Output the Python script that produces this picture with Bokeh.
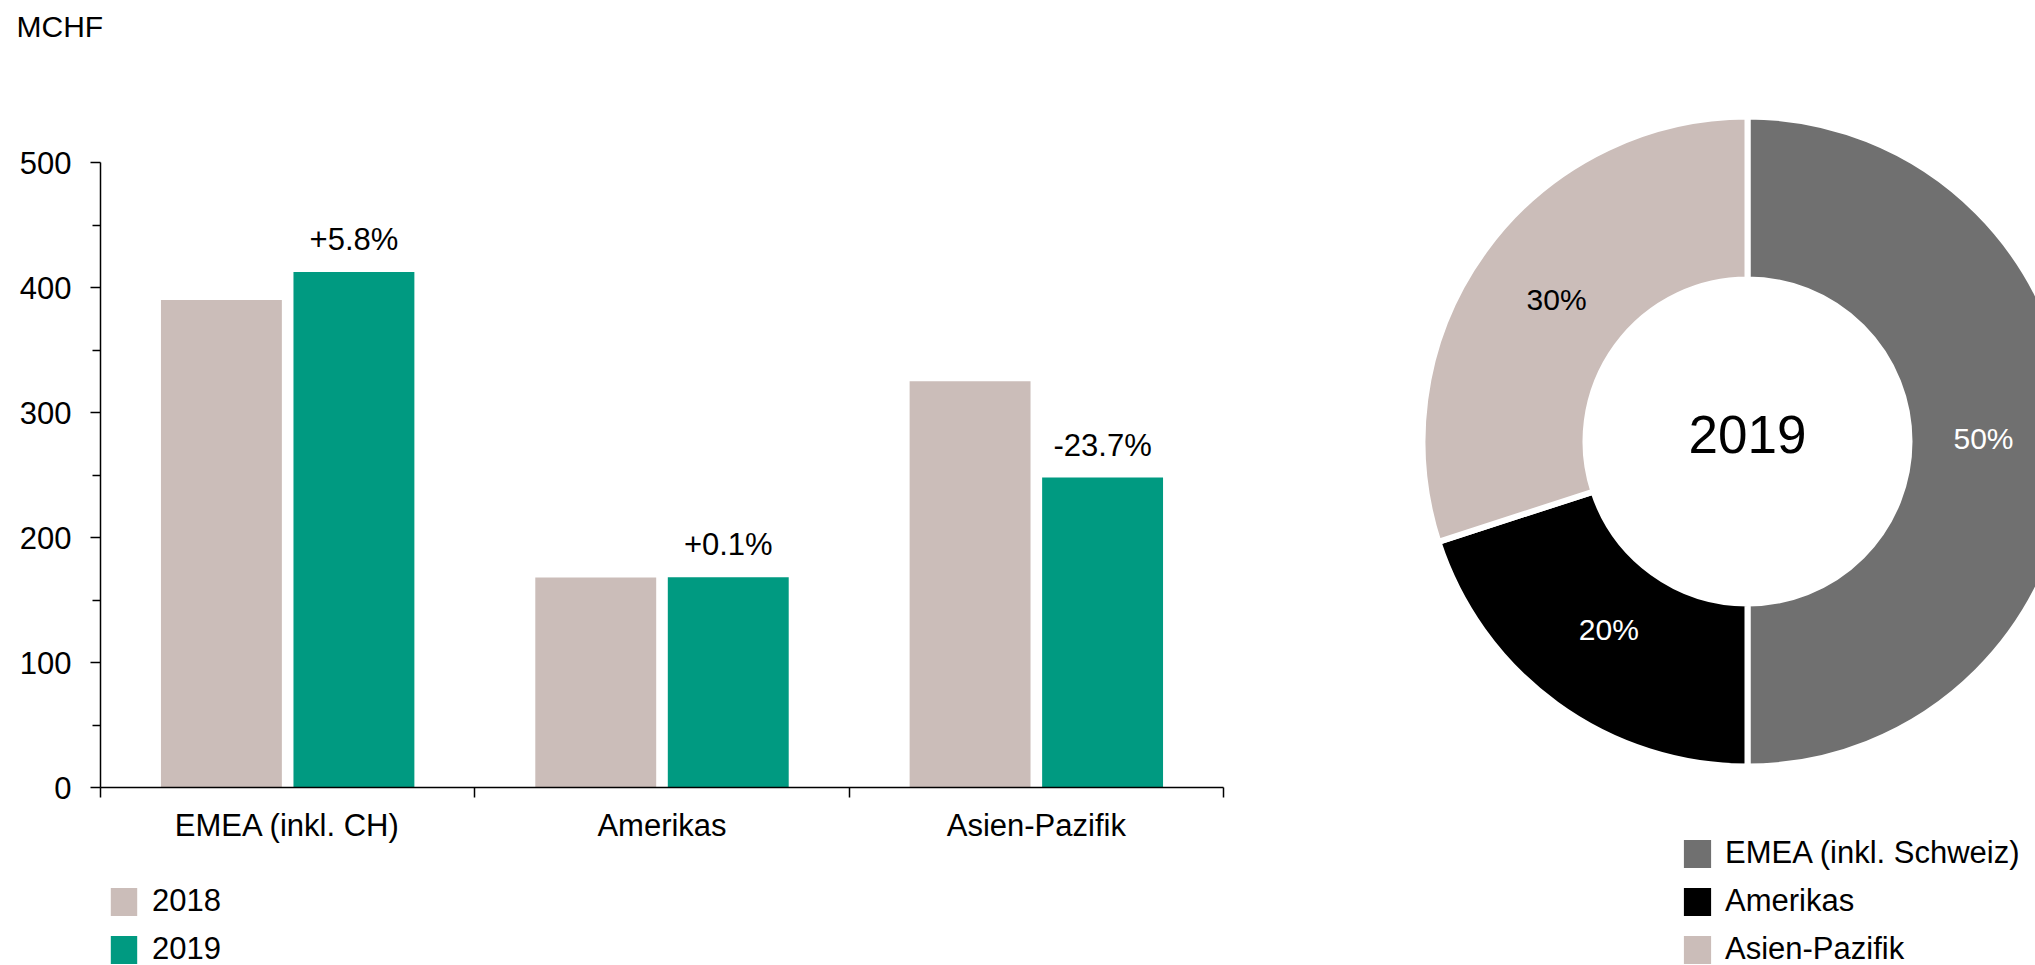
import math
import numpy as np
from bokeh.plotting import figure
from bokeh.models import (Range1d, FixedTicker, LinearAxis, Legend, LegendItem,
                          Label, ColumnDataSource)
from bokeh.layouts import row, column
from bokeh.transform import dodge
from bokeh.core.properties import value
from bokeh.embed import file_html
from bokeh.resources import INLINE

# ---------------- data ----------------
regions = ["EMEA (inkl. CH)", "Amerikas", "Asien-Pazifik"]
years = ["2018", "2019"]
values_2018 = [390, 168, 325]
values_2019 = [412.5, 168.2, 248]
growth_labels = ["+5.8%", "+0.1%", "-23.7%"]
y_ticks = [0, 100, 200, 300, 400, 500]
y_minor_ticks = [50, 150, 250, 350, 450]
unit_label = "MCHF"

donut_year = "2019"
donut_regions = ["EMEA (inkl. Schweiz)", "Amerikas", "Asien-Pazifik"]
donut_shares = [50, 20, 30]
donut_labels = ["50%", "20%", "30%"]

# ---------------- style ----------------
FONT = "Liberation Sans"
FS = "31px"
C2018 = "#CBBDB9"
C2019 = "#009A81"
year_colors = [C2018, C2019]
donut_colors = ["#707070", "#000000", "#CBBDB9"]
donut_text_colors = ["white", "white", "black"]

W_TOTAL, H = 2035, 965
W1 = 1300
W2 = W_TOTAL - W1
H_TOP = 60
H_BOT = 105
H_MID = H - H_TOP - H_BOT


def bare(width, height, **kw):
    f = figure(width=width, height=height, output_backend="svg", toolbar_location=None,
               x_axis_location=None, y_axis_location=None, min_border=0, **kw)
    f.frame_align = False
    f.outline_line_color = None
    f.grid.visible = False
    return f


def make_legend(items, loc, glyph_w, standoff):
    return Legend(items=items, location=loc, orientation="vertical",
                  padding=0, margin=0, border_line_color=None, background_fill_alpha=0,
                  glyph_width=glyph_w, glyph_height=35, label_height=35, spacing=12,
                  label_standoff=standoff, label_text_font=FONT, label_text_font_size=FS,
                  label_text_color="black")


# ---------------- unit label strip ----------------
p_top = bare(W1, H_TOP, x_range=Range1d(0, 1), y_range=Range1d(0, 1))
p_top.add_layout(Label(x=16, y=H_TOP - 26, x_units="screen", y_units="screen",
                       text=unit_label, text_font=FONT, text_font_size="30px",
                       text_baseline="middle", text_color="black"))

# ---------------- bar chart ----------------
p1 = figure(width=W1, height=H_MID, x_range=Range1d(-0.5, 2.5), y_range=Range1d(0, 500),
            output_backend="svg", toolbar_location=None,
            x_axis_location=None, y_axis_location=None,
            min_border_left=100, min_border_right=W1 - 1223,
            min_border_top=162 - H_TOP, min_border_bottom=H - H_BOT - 787)
p1.frame_align = False
p1.outline_line_color = None
p1.grid.visible = False

src = ColumnDataSource(dict(x=list(range(len(regions))), v18=values_2018,
                            v19=values_2019, lab=growth_labels))
p1.vbar(x=dodge("x", -0.177), top="v18", width=0.323, source=src,
        fill_color=C2018, line_color=None)
p1.vbar(x=dodge("x", 0.177), top="v19", width=0.323, source=src,
        fill_color=C2019, line_color=None)
p1.text(x=dodge("x", 0.177), y="v19", text="lab", source=src,
        text_align="center", text_baseline="bottom", y_offset=-15,
        text_font=value(FONT), text_font_size=FS, text_color="black")

yaxis = LinearAxis(ticker=FixedTicker(ticks=y_ticks, minor_ticks=y_minor_ticks))
yaxis.major_tick_in = 0
yaxis.major_tick_out = 10
yaxis.minor_tick_in = 0
yaxis.minor_tick_out = 8
yaxis.axis_line_width = 1.5
yaxis.major_tick_line_width = 1.5
yaxis.minor_tick_line_width = 1.5
yaxis.axis_line_color = "black"
yaxis.major_tick_line_color = "black"
yaxis.minor_tick_line_color = "black"
yaxis.major_label_standoff = 19
yaxis.major_label_text_font = FONT
yaxis.major_label_text_font_size = FS
yaxis.major_label_text_color = "black"
p1.add_layout(yaxis, "left")

xaxis = LinearAxis(ticker=FixedTicker(ticks=list(range(len(regions))),
                                      minor_ticks=[-0.5, 0.5, 1.5, 2.5]),
                   major_label_overrides={i: r for i, r in enumerate(regions)})
xaxis.major_tick_in = 0
xaxis.major_tick_out = 0
xaxis.minor_tick_in = 0
xaxis.minor_tick_out = 10
xaxis.axis_line_width = 1.5
xaxis.minor_tick_line_width = 1.5
xaxis.axis_line_color = "black"
xaxis.minor_tick_line_color = "black"
xaxis.major_label_standoff = 10
xaxis.major_label_text_font = FONT
xaxis.major_label_text_font_size = FS
xaxis.major_label_text_color = "black"
p1.add_layout(xaxis, "below")

# ---------------- bar legend strip ----------------
p_bot = bare(W1, H_BOT, x_range=Range1d(0, 1), y_range=Range1d(0, 1))
bar_items = []
for yr, col in zip(years, year_colors):
    r = p_bot.vbar(x=np.array([np.nan]), top=np.array([np.nan]), width=0.1,
                   fill_color=col, line_color=None)
    bar_items.append(LegendItem(label=yr, renderers=[r]))
p_bot.add_layout(make_legend(bar_items, (107, -2), 33, 12))

# ---------------- donut ----------------
p2 = bare(W2, H, x_range=Range1d(-447, W2 - 447), y_range=Range1d(-(H - 441), 441))

total = sum(donut_shares)
starts, ends, mids = [], [], []
cum = 0
for s in donut_shares:
    a0 = math.pi / 2 - 2 * math.pi * cum / total
    cum += s
    a1 = math.pi / 2 - 2 * math.pi * cum / total
    starts.append(a0)
    ends.append(a1)
    mids.append((a0 + a1) / 2)

R_OUT, R_IN = 325, 162
R_LAB = 236
dsrc = ColumnDataSource(dict(
    start=starts, end=ends, color=donut_colors, lab=donut_labels,
    tcol=donut_text_colors,
    lx=[R_LAB * math.cos(m) for m in mids],
    ly=[R_LAB * math.sin(m) for m in mids]))
p2.annular_wedge(x=0, y=0, inner_radius=R_IN, outer_radius=R_OUT,
                 start_angle="start", end_angle="end", direction="clock",
                 fill_color="color", line_color="white", line_width=6, source=dsrc)
p2.text(x="lx", y="ly", text="lab", text_color="tcol", source=dsrc,
        text_align="center", text_baseline="middle", y_offset=-3,
        text_font=value(FONT), text_font_size="30px")
p2.text(x=[0], y=[0], text=[donut_year], text_align="center", text_baseline="middle",
        y_offset=-7, text_font=value(FONT), text_font_size="53px", text_color="black")

legend_items = []
for name, col in zip(donut_regions, donut_colors):
    r = p2.quad(left=np.array([np.nan]), right=np.array([np.nan]),
                top=np.array([np.nan]), bottom=np.array([np.nan]),
                fill_color=col, line_color=None)
    legend_items.append(LegendItem(label=name, renderers=[r]))
p2.add_layout(make_legend(legend_items, (380, -2), 34, 11))

layout = row(column(p_top, p1, p_bot, spacing=0), p2, spacing=0)
open("out.html", "w").write(file_html(layout, INLINE))
